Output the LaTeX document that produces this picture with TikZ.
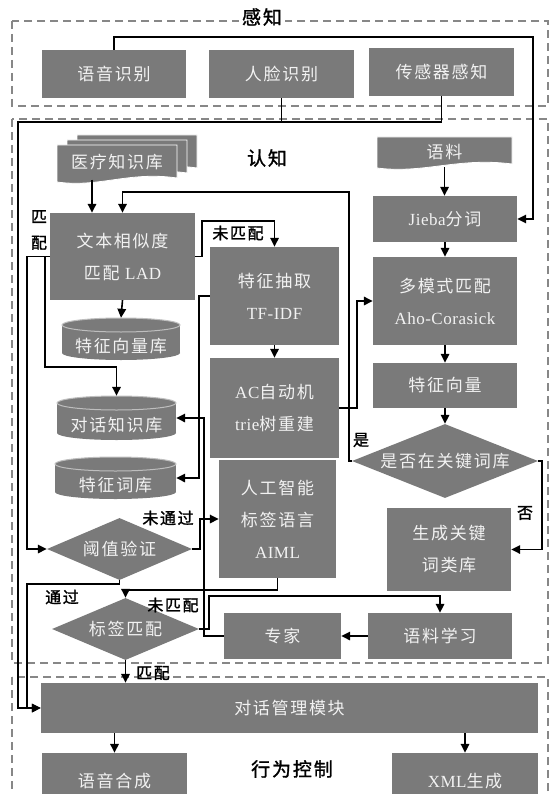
\documentclass[tikz,border=0pt]{standalone}
\usepackage{fontspec}
\setmainfont{Noto Sans CJK SC}[LetterSpace=10,AutoFakeBold=1.5]
\newfontfamily\lat{Liberation Serif}[LetterSpace=3]
\usetikzlibrary{arrows.meta,shapes.geometric,calc}
\definecolor{boxgray}{RGB}{122,122,122}
\definecolor{boxtext}{RGB}{242,242,242}
\definecolor{dashgray}{RGB}{135,135,135}
\definecolor{rimgray}{RGB}{190,190,190}
\newcommand\myboxfont{\fontsize{17}{32}\selectfont}
\newcommand\mylblfont{\fontsize{16}{26}\selectfont\bfseries}
\newcommand\myttlfont{\fontsize{19}{22}\selectfont\bfseries}
\newcommand\mycyl[6]{%
  \fill[boxgray] (#2,#4+7) rectangle (#3,#5-7);
  \fill[boxgray] ({(#2+#3)/2},#5-7) ellipse [x radius={(#3-#2)/2}, y radius=7];
  \filldraw[fill=boxgray,draw=rimgray,line width=1pt] ({(#2+#3)/2},#4+7) ellipse [x radius={(#3-#2)/2}, y radius=7];
  \node[inner sep=0pt,minimum width={#3-#2},minimum height={#5-#4}] (#1) at ({(#2+#3)/2},{(#4+#5)/2}) {};
  \node[font=\myboxfont,text=boxtext,inner sep=0pt] (#1-t) at ({(#2+#3)/2},{(#4+#5)/2+7}) {#6};
}
\newcommand\mydoc[4]{%
  \filldraw[fill=boxgray,draw=white,line width=0.8pt] (#1,#3) -- (#2,#3) -- (#2,#4-4)
    .. controls ({#1+0.6*(#2-#1)},#4-11) and ({#1+0.35*(#2-#1)},#4+6) .. (#1,#4) -- cycle;
}
\begin{document}
\begin{tikzpicture}[x=1pt,y=-1pt,
  box/.style={fill=boxgray,text=boxtext,inner sep=0pt,align=center,font=\myboxfont},
  dia/.style={shape=diamond,fill=boxgray,text=boxtext,inner sep=0pt,font=\myboxfont},
  lbl/.style={font=\mylblfont,text=black,inner sep=1pt,align=center},
  ttl/.style={font=\myttlfont,text=black,inner sep=3pt},
  conn/.style={line width=1.6pt,draw=black},
  arr/.style={conn,-{Triangle[length=9pt,width=8.5pt]}},
  dashbox/.style={draw=dashgray,line width=1.3pt,dash pattern=on 8pt off 5pt}]
\useasboundingbox (0,0) rectangle (556,794);
\clip (0,0) rectangle (556,794);
\fill[white] (0,0) rectangle (556,794);

% dashed frames
\draw[dashbox] (12,21) rectangle (548,106);
\draw[dashbox] (12,119) rectangle (548,663);
\draw[dashbox] (12,677) rectangle (548,830);
\node[ttl,fill=white] (tgz) at (262,17) {感知};
\node[ttl] (trz) at (267,158) {认知};
\node[ttl] (txw) at (292,769) {行为控制};

% perception
\node[box,minimum width=144,minimum height=48] (yy) at (114,74) {语音识别};
\node[box,minimum width=145,minimum height=48] (rl) at (281.5,74) {人脸识别};
\node[box,minimum width=145,minimum height=48] (cg) at (441.5,72) {传感器感知};

% documents
\mydoc{77}{197}{135}{172}
\mydoc{67}{187}{140}{177}
\mydoc{57}{177}{145}{182}
\node[inner sep=0pt,minimum width=120,minimum height=35,font=\myboxfont,text=boxtext] (yk) at (117,162) {医疗知识库};
\mydoc{377}{512}{137}{168}
\node[inner sep=0pt,minimum width=135,minimum height=30,font=\myboxfont,text=boxtext] (yl) at (444.5,152) {语料};

% cognition boxes
\node[box,minimum width=145,minimum height=87] (lad) at (122.5,256.5) {文本相似度\\匹配 {\lat LAD}};
\node[box,minimum width=129,minimum height=98] (tz) at (274.5,296) {特征抽取\\{\lat TF-IDF}};
\node[box,minimum width=129,minimum height=100] (ac) at (274.5,408) {{\lat AC}自动机\\{\lat trie}树重建};
\node[box,minimum width=117,minimum height=118] (aiml) at (277.5,519) {人工智能\\标签语言\\{\lat AIML}};
\node[box,minimum width=144,minimum height=46] (jieba) at (445,219) {{\lat Jieba}分词};
\node[box,minimum width=144,minimum height=88] (dms) at (445,301) {多模式匹配\\{\lat Aho-Corasick}};
\node[box,minimum width=144,minimum height=45] (tzxl) at (445,385.5) {特征向量};
\node[dia,minimum width=186,minimum height=74] (sf) at (445,461) {\makebox[0pt]{是否在关键词库}};
\node[box,minimum width=124,minimum height=83] (scgj) at (449,549.5) {生成关键\\词类库};
\node[box,minimum width=144,minimum height=46] (ylxx) at (440,636) {语料学习};
\node[box,minimum width=117,minimum height=46] (zj) at (282.5,636) {专家};
\node[dia,minimum width=145,minimum height=62] (yz) at (119.5,549) {\makebox[0pt]{阈值验证}};
\node[dia,minimum width=147,minimum height=62] (bq) at (125.5,629) {\makebox[0pt]{标签匹配}};

\mycyl{kb1}{62}{180}{318}{360}{特征向量库}
\mycyl{kb2}{57}{176}{396}{440}{对话知识库}
\mycyl{kb3}{55}{176}{457}{499}{特征词库}

% behaviour
\node[box,minimum width=497,minimum height=50] (dh) at (289.5,708) {对话管理模块};
\node[box,minimum width=145,minimum height=56] (yyhc) at (114.5,781) {语音合成};
\node[box,minimum width=146,minimum height=56] (xml) at (465,781) {{\lat XML}生成};

% connectors
\coordinate (hub) at (18,122);
\coordinate (r1) at (533,37);
\draw[arr] (yy.north) |- (r1) |- (jieba.east);
\draw[conn] (rl.south) -- (rl.south |- hub);
\draw[arr] (cg.south) |- (hub) |- (dh.west);

\coordinate (yk1) at ([xshift=-25pt]yk.south);
\draw[arr] (yk1) -- (yk1 |- lad.north);
\draw[arr] (yl.south) -- (yl.south |- jieba.north);
\draw[arr] (jieba.south) -- (dms.north);
\draw[arr] (dms.south) -- (tzxl.north);
\draw[arr] (tzxl.south) -- (sf.north);
\draw[arr] (sf.east) -| ($(scgj.east)+(31,0)$) -- (scgj.east);
\draw[arr] (sf.west) -| (349,192) -| (lad.north);
\draw[arr] (lad.south) -- (kb1.north);
\draw[arr] (lad.east) -| (202,221) -| (tz.north);
\draw[arr] (tz.south) -- (ac.north);
\draw[arr] (ac.east) -| ($(dms.west)+(-16,0)$) -- (dms.west);
\draw[arr] (tz.west) -| ($(kb3.east)+(23,0)$) -- (kb3.east);
\draw[arr] (zj.west) -| ($(kb2.east)+(28,0)$) -- (kb2.east);
\draw[arr] (lad.west) -| (45,367) -| (kb2.north);
\draw[arr] (lad.west) -| (27,549) -- (yz.west);
\draw[arr] (yz.east) -| ($(aiml.west)+(-19,0)$) -- (aiml.west);
\draw[arr] (yz.south) -- ++(0,4) -| (27,708) -- (dh.west);
\draw[arr] (aiml.south) |- ($(bq.north)+(0,-8)$) -- (bq.north);
\draw[arr] (bq.east) -| (209,596) -| (ylxx.north);
\draw[arr] (ylxx.west) -- (zj.east);
\draw[arr] (bq.south) -- (bq.south |- dh.north);
\draw[arr] (dh.south -| yyhc.north) -- (yyhc.north);
\draw[arr] (dh.south -| xml.north) -- (xml.north);

% labels
\node[lbl] (l1) at (238,233) {未匹配};
\node[lbl] (l2) at (361,440) {是};
\node[lbl] (l3) at (525,513) {否};
\node[lbl] (l4) at (39,230) {匹\\配};
\node[lbl] (l5) at (168,518) {未通过};
\node[lbl] (l6) at (62,597) {通过};
\node[lbl] (l7) at (173,605) {未匹配};
\node[lbl] (l8) at (153,673) {匹配};
\end{tikzpicture}
\end{document}
